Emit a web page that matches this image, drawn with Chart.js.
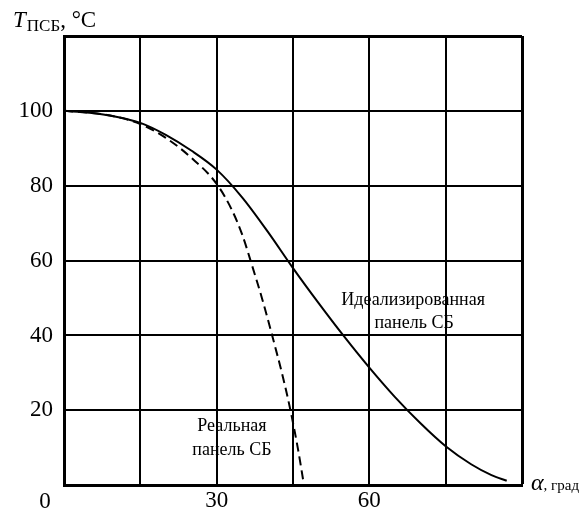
<!DOCTYPE html>
<html>
<head>
<meta charset="utf-8">
<script src="https://cdn.jsdelivr.net/npm/chart.js@4/dist/chart.umd.min.js"></script>
<style>
  html, body { margin: 0; padding: 0; background: #fff; }
  #chart { display: block; }
</style>
</head>
<body>
<canvas id="chart" width="584" height="510"></canvas>
<script>
// data
const idealAngles = [0, 5, 10, 15, 20, 25, 30, 35, 40, 45, 50, 55, 60, 65, 70, 75, 80, 84, 87]
const idealTemps  = [100, 99.5, 98.5, 96.8, 93.6, 89.4, 84.3, 76.9, 67.8, 58, 48.7, 39.8, 31.4, 23.6, 16.6, 10.4, 5.6, 2.7, 1.2]
const realAngles  = [0, 5, 10, 15, 20, 25, 30, 33, 35, 37, 39, 41, 43, 44.5, 46, 47.1]
const realTemps   = [100, 99.5, 98.5, 96.5, 92.8, 87.5, 80.5, 73.5, 67, 58.5, 49.5, 39.5, 29, 20, 9.5, 0.5]
const xTickLabels = [30, 60]
const yTickLabels = [20, 40, 60, 80, 100]

const SERIF = '"Liberation Serif", "Times New Roman", serif'

// text placed in data units
const notes = [
  { text: 'Идеализированная', x: 68.6, y: 48.1 },
  { text: 'панель СБ', x: 68.8, y: 42 },
  { text: 'Реальная', x: 33, y: 14.4 },
  { text: 'панель СБ', x: 33, y: 8 }
]

const toPoints = (xs, ys) => xs.map((x, i) => ({ x: x, y: ys[i] }))

const extraText = {
  id: 'extraText',
  afterDraw(chart) {
    const ctx = chart.ctx
    const xs = chart.scales.x
    const ys = chart.scales.y
    ctx.save()
    ctx.fillStyle = '#000'
    ctx.textBaseline = 'alphabetic'

    // axis title T_ПСБ, °C
    let x = 13
    ctx.textAlign = 'left'
    ctx.font = 'italic 23px ' + SERIF
    ctx.fillText('T', x, 27)
    x += ctx.measureText('T').width + 1
    ctx.font = '17px ' + SERIF
    ctx.fillText('ПСБ', x, 31)
    x += ctx.measureText('ПСБ').width
    ctx.font = '23px ' + SERIF
    ctx.fillText(', °C', x, 27)

    // alpha, град
    x = xs.right + 9
    ctx.font = 'italic 24px ' + SERIF
    ctx.fillText('α', x, 490)
    x += ctx.measureText('α').width
    ctx.font = '15px ' + SERIF
    ctx.fillText(', град', x, 490)

    // origin label
    ctx.textAlign = 'center'
    ctx.font = '23px ' + SERIF
    ctx.fillText('0', xs.left - 19, 508)

    // curve notes
    ctx.font = '18px ' + SERIF
    notes.forEach(n => {
      ctx.fillText(n.text, xs.getPixelForValue(n.x), ys.getPixelForValue(n.y))
    })
    ctx.restore()
  }
}

new Chart(document.getElementById('chart').getContext('2d'), {
  type: 'line',
  data: {
    datasets: [
      {
        label: 'Идеализированная панель СБ',
        data: toPoints(idealAngles, idealTemps),
        borderColor: '#000',
        borderWidth: 2,
        pointRadius: 0,
        fill: false,
        cubicInterpolationMode: 'monotone'
      },
      {
        label: 'Реальная панель СБ',
        data: toPoints(realAngles, realTemps),
        borderColor: '#000',
        borderWidth: 2,
        borderDash: [9, 5],
        pointRadius: 0,
        fill: false,
        cubicInterpolationMode: 'monotone'
      }
    ]
  },
  options: {
    responsive: false,
    animation: false,
    devicePixelRatio: 1,
    layout: { padding: { top: 36, right: 62, left: 0, bottom: 0 } },
    plugins: {
      legend: { display: false },
      title: { display: false },
      tooltip: { enabled: false }
    },
    scales: {
      x: {
        type: 'linear',
        min: 0,
        max: 90,
        afterFit: s => { s.height = 23 },
        grid: {
          color: '#000',
          lineWidth: c => (c.tick && c.tick.value === 90 ? 3 : 2),
          drawTicks: false
        },
        border: { color: '#000', width: 3 },
        ticks: {
          stepSize: 15,
          padding: 2,
          color: '#000',
          font: { family: SERIF, size: 23 },
          callback: v => (xTickLabels.includes(v) ? String(v) : '')
        }
      },
      y: {
        min: 0,
        max: 120,
        afterFit: s => { s.width = 64 },
        grid: {
          color: '#000',
          lineWidth: c => (c.tick && c.tick.value === 120 ? 3 : 2),
          drawTicks: false
        },
        border: { color: '#000', width: 3 },
        ticks: {
          stepSize: 20,
          padding: 11,
          color: '#000',
          font: { family: SERIF, size: 23 },
          callback: v => (yTickLabels.includes(v) ? String(v) : '')
        }
      }
    }
  },
  plugins: [extraText]
})
</script>
</body>
</html>
